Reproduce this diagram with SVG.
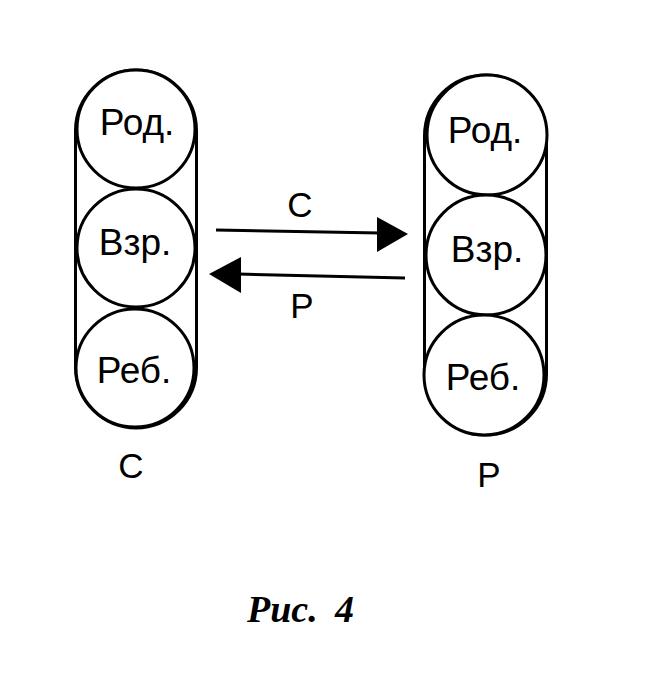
<svg xmlns="http://www.w3.org/2000/svg" width="656" height="692" viewBox="0 0 656 692">
<style>
.sh{fill:none;stroke:#000;stroke-width:3}
.c{fill:#fff;stroke:#000;stroke-width:3}
.t{font-family:"Liberation Sans",Arial,sans-serif;font-size:37px;text-anchor:middle;fill:#000}
.l{font-family:"Liberation Sans",Arial,sans-serif;font-size:35px;text-anchor:middle;fill:#000}
.ln{stroke:#000;stroke-width:3;fill:none}
.cap{font-family:"Liberation Serif","Times New Roman",serif;font-size:38px;font-weight:bold;font-style:italic;fill:#000}
</style>
<rect width="656" height="692" fill="#fff"/>
<g id="stackC">
<rect class="sh" x="75.5" y="70" width="121" height="358" rx="60.5"/>
<g id="c-rod"><circle class="c" cx="136" cy="129" r="59"/><text class="t" x="137" y="135">Род.</text></g>
<g id="c-vzr"><circle class="c" cx="136" cy="248" r="59"/><text class="t" x="135" y="255">Взр.</text></g>
<g id="c-reb"><circle class="c" cx="135" cy="368" r="59"/><text class="t" x="134" y="383">Реб.</text></g>
<text class="l" x="131" y="478">С</text>
</g>
<g id="stackP">
<rect class="sh" x="424.5" y="75" width="122" height="360" rx="61"/>
<g id="p-rod"><circle class="c" cx="487" cy="135" r="60"/><text class="t" x="485" y="143">Род.</text></g>
<g id="p-vzr"><circle class="c" cx="486" cy="255" r="60"/><text class="t" x="487" y="262">Взр.</text></g>
<g id="p-reb"><circle class="c" cx="484" cy="375" r="60"/><text class="t" x="483" y="390">Реб.</text></g>
<text class="l" x="489" y="487">Р</text>
</g>
<g id="connectors">
<line class="ln" x1="216" y1="230" x2="380" y2="233"/>
<polygon points="377,217 408,234 377,252" fill="#000"/>
<text class="l" x="300" y="217">С</text>
<line class="ln" x1="405" y1="278" x2="238" y2="274"/>
<polygon points="241,257 209,274 241,293" fill="#000"/>
<text class="l" x="302" y="318">Р</text>
</g>
<text class="cap" y="622"><tspan x="247">Рис.</tspan><tspan x="335">4</tspan></text>
</svg>
